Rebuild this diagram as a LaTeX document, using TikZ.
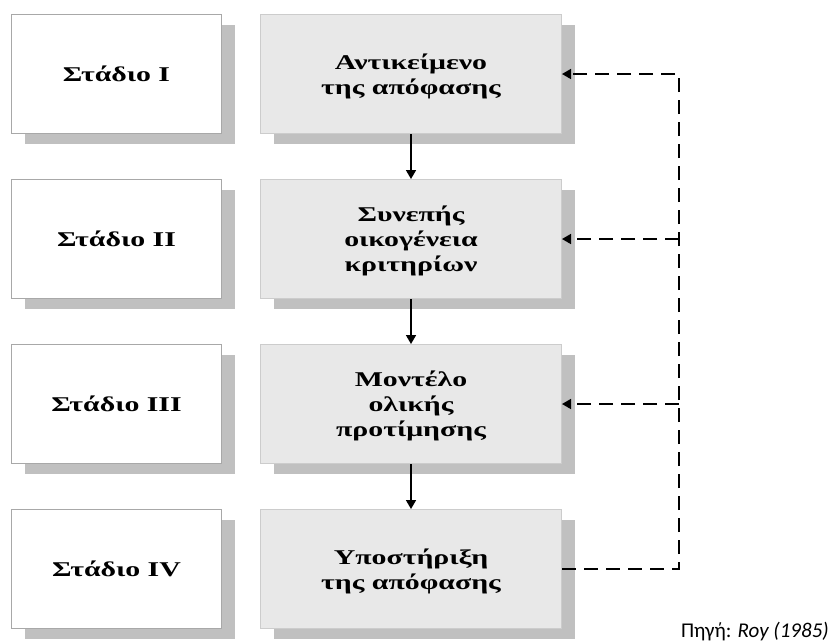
\documentclass[tikz,border=0pt]{standalone}
\usepackage{fontspec}
\setmainfont{Liberation Serif}
\newfontfamily\boxfont[FakeStretch=1.42]{Liberation Serif}
\newfontfamily\notefont{Carlito}
\usetikzlibrary{arrows.meta,shadows}

\definecolor{stageline}{HTML}{A8A8A8}
\definecolor{taskline}{HTML}{CCCCCC}
\definecolor{taskfill}{HTML}{E8E8E8}
\definecolor{shadowgray}{HTML}{C0C0C0}

\tikzset{
  boxbase/.style={anchor=north west, minimum height=119pt, line width=1pt,
    align=center, font=\boxfont\bfseries\fontsize{21}{25}\selectfont,
    drop shadow={shadow xshift=13pt, shadow yshift=-10pt, fill=shadowgray, opacity=1}},
  stagebox/.style={boxbase, draw=stageline, fill=white, minimum width=210pt},
  taskbox/.style={boxbase, draw=taskline, fill=taskfill, minimum width=301pt,
    text depth=0pt},
  flow/.style={line width=1.6pt, -{Triangle[length=9pt,width=10pt]}},
  feedback/.style={line width=1.6pt, dash pattern=on 14pt off 8pt},
  feedbackarrow/.style={feedback, -{Triangle[length=9pt,width=10pt]}},
}

\begin{document}
\begin{tikzpicture}[x=1pt,y=-1pt]
  \useasboundingbox (0,0) rectangle (834,641);

  % stage labels
  \node[stagebox] (s1) at (11,14)  {Στάδιο I};
  \node[stagebox] (s2) at (11,179) {Στάδιο II};
  \node[stagebox] (s3) at (11,344) {Στάδιο III};
  \node[stagebox] (s4) at (11,509) {Στάδιο IV};

  % decision-aid steps
  \node[taskbox] (b1) at (260,14)  {Αντικείμενο\\της απόφασης};
  \node[taskbox] (b2) at (260,179) {Συνεπής\\οικογένεια\\κριτηρίων};
  \node[taskbox] (b3) at (260,344) {Μοντέλο\\ολικής\\προτίμησης};
  \node[taskbox] (b4) at (260,509) {Υποστήριξη\\της απόφασης};

  % main sequence
  \draw[flow] (b1.south) -- (b2.north);
  \draw[flow] (b2.south) -- (b3.north);
  \draw[flow] (b3.south) -- (b4.north);

  % feedback loop
  \coordinate (rail) at (679,0);
  \draw[feedbackarrow] (b4.east) -| (rail |- b1.east) -- (b1.east);
  \draw[feedbackarrow] (rail |- b2.east) -- (b2.east);
  \draw[feedbackarrow] (rail |- b3.east) -- (b3.east);

  % source note
  \node[anchor=base east, inner sep=0pt, font=\notefont\fontsize{21}{25}\selectfont]
    (src) at (829,637) {Πηγή: \textit{Roy (1985)}};
\end{tikzpicture}
\end{document}
